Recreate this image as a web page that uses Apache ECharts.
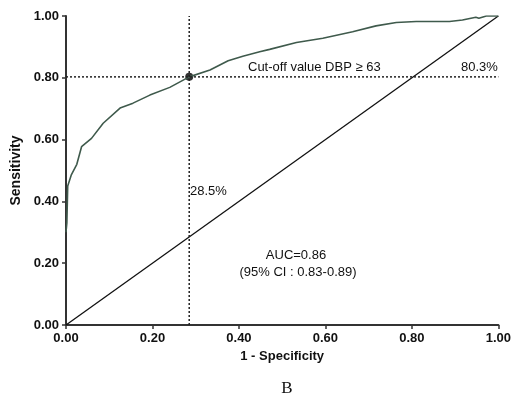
<!DOCTYPE html>
<html>
<head>
<meta charset="utf-8">
<script src="https://cdn.jsdelivr.net/npm/echarts@6/dist/echarts.min.js"></script>
<style>
  html, body { margin: 0; padding: 0; background: #fff; }
  #chart { width: 514px; height: 397px; }
</style>
</head>
<body>
<div id="chart"></div>
<script>
// ROC curve
const fpr = [0, 0.002, 0.004, 0.012, 0.025, 0.036, 0.059, 0.086, 0.125, 0.155, 0.194, 0.240, 0.285, 0.333, 0.375, 0.409, 0.448, 0.471, 0.533, 0.594, 0.663, 0.717, 0.764, 0.810, 0.887, 0.917, 0.948, 0.955, 0.972, 1.0];
const tpr = [0.30, 0.33, 0.45, 0.485, 0.52, 0.577, 0.604, 0.653, 0.702, 0.718, 0.744, 0.769, 0.803, 0.825, 0.855, 0.870, 0.884, 0.892, 0.914, 0.928, 0.949, 0.968, 0.979, 0.982, 0.982, 0.987, 0.996, 0.993, 1.0, 1.0];
const refLine = [[0, 0], [1, 1]];
const cutoff = [0.285, 0.803];

const chart = echarts.init(document.getElementById('chart'));
const font = 'Liberation Sans, Arial, sans-serif';
const axisCommon = {
  type: 'value', min: 0, max: 1, interval: 0.2,
  axisLine: { show: true, onZero: false, lineStyle: { color: '#333', width: 2 } },
  axisTick: { show: true, inside: false, length: 4, lineStyle: { color: '#333', width: 1.5 } },
  axisLabel: { color: '#111', fontFamily: font, fontWeight: 'bold', fontSize: 13, margin: 7, formatter: v => v.toFixed(2) },
  splitLine: { show: false },
  nameLocation: 'middle',
  nameTextStyle: { color: '#111', fontFamily: font, fontWeight: 'bold', fontSize: 14 }
};

chart.setOption({
  backgroundColor: '#fff',
  animation: false,
  grid: { left: 66, right: 15, top: 16, bottom: 72 },
  xAxis: Object.assign({}, axisCommon, { name: '1 - Specificity', nameGap: 22, nameTextStyle: Object.assign({}, axisCommon.nameTextStyle, { fontSize: 13 }) }),
  yAxis: Object.assign({}, axisCommon, { name: 'Sensitivity', nameGap: 42 }),
  series: [
    {
      type: 'line', data: refLine, symbol: 'none',
      lineStyle: { color: '#111', width: 1.3 }
    },
    {
      type: 'line', data: fpr.map((x, i) => [x, tpr[i]]), symbol: 'none',
      lineStyle: { color: '#3f5a4c', width: 1.6 }
    },
    {
      type: 'line', data: [[cutoff[0], 0], [cutoff[0], 1]], symbol: 'none',
      lineStyle: { color: '#222', width: 1.5, type: [2, 2] }
    },
    {
      type: 'line', data: [[0, cutoff[1]], [1, cutoff[1]]], symbol: 'none',
      lineStyle: { color: '#222', width: 1.5, type: [2, 2] }
    },
    {
      type: 'scatter', data: [cutoff], symbolSize: 8,
      itemStyle: { color: '#000' }
    }
  ],
  graphic: [
    { type: 'text', left: 248, top: 61, style: { text: 'Cut-off value DBP ≥ 63', font: '13px ' + font, fill: '#111' } },
    { type: 'text', left: 461, top: 61, style: { text: '80.3%', font: '13px ' + font, fill: '#111' } },
    { type: 'text', left: 190, top: 185, style: { text: '28.5%', font: '13px ' + font, fill: '#111' } },
    { type: 'text', x: 296, y: 255, style: { text: 'AUC=0.86', font: '13px ' + font, fill: '#111', align: 'center', verticalAlign: 'middle' } },
    { type: 'text', x: 298, y: 272, style: { text: '(95% CI : 0.83-0.89)', font: '13px ' + font, fill: '#111', align: 'center', verticalAlign: 'middle' } },
    { type: 'text', x: 287, y: 389, style: { text: 'B', font: '17px Liberation Serif, DejaVu Serif, serif', fill: '#111', align: 'center', verticalAlign: 'middle' } }
  ]
});
</script>
</body>
</html>
